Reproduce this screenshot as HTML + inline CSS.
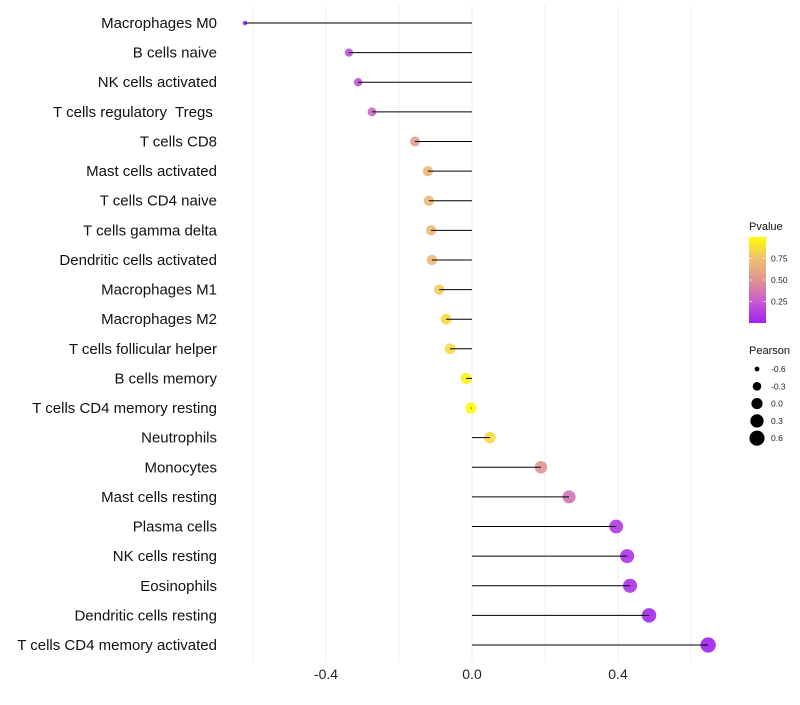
<!DOCTYPE html>
<html><head><meta charset="utf-8"><style>
body{margin:0;background:#fff;font-family:"Liberation Sans",sans-serif}
svg text{font-family:"Liberation Sans",sans-serif;white-space:pre}
</style></head><body>
<svg id="chart" width="800" height="700" xmlns="http://www.w3.org/2000/svg">
<defs><linearGradient id="pg" x1="0" y1="1" x2="0" y2="0">
<stop offset="0" stop-color="#A020F0"/><stop offset="0.25" stop-color="#C55CD0"/><stop offset="0.5" stop-color="#DF9590"/><stop offset="0.75" stop-color="#F0C070"/><stop offset="1" stop-color="#FFFF00"/></linearGradient></defs>
<g id="grid"></g><g id="marks"></g><g id="labels"></g><g id="legend"></g>
</svg>
<script>
const categories=["Macrophages M0","B cells naive","NK cells activated","T cells regulatory  Tregs ","T cells CD8","Mast cells activated","T cells CD4 naive","T cells gamma delta","Dendritic cells activated","Macrophages M1","Macrophages M2","T cells follicular helper","B cells memory","T cells CD4 memory resting","Neutrophils","Monocytes","Mast cells resting","Plasma cells","NK cells resting","Eosinophils","Dendritic cells resting","T cells CD4 memory activated"];
const pearson=[-0.622,-0.337,-0.312,-0.274,-0.156,-0.121,-0.118,-0.112,-0.110,-0.090,-0.071,-0.060,-0.016,-0.003,0.049,0.189,0.266,0.395,0.425,0.433,0.485,0.647];
const pvalues=[0.0,0.2,0.22,0.3,0.55,0.7,0.7,0.72,0.72,0.8,0.85,0.85,0.95,0.99,0.85,0.5,0.35,0.1,0.08,0.07,0.03,0.0];
const xTicks=[-0.4,0.0,0.4];
const xTickLabels=["-0.4","0.0","0.4"];
const xGrid=[-0.6,-0.4,-0.2,0,0.2,0.4,0.6];
const sizeBreaks=[-0.6,-0.3,0.0,0.3,0.6];
const colorBreaks=[0.25,0.5,0.75];

const NS="http://www.w3.org/2000/svg";
function mk(t,a,p){const e=document.createElementNS(NS,t);for(const k in a)e.setAttribute(k,a[k]);p.appendChild(e);return e;}
const X=v=>472+v*365;
const Y=i=>23+i*(622/21);
const R=v=>Math.sqrt(5+Math.max(0,(v+0.62))/1.27*54);
const stops=[[0,[160,32,240]],[0.25,[197,92,208]],[0.5,[223,149,144]],[0.75,[240,192,112]],[1,[255,255,0]]];
function col(p){for(let i=0;i<stops.length-1;i++){const[a,ca]=stops[i],[b,cb]=stops[i+1];if(p<=b){const t=(p-a)/(b-a);return "rgb("+ca.map((c,j)=>Math.round(c+(cb[j]-c)*t)).join(",")+")";}}return "rgb(255,255,0)";}
const grid=document.getElementById('grid'),marks=document.getElementById('marks'),labels=document.getElementById('labels'),leg=document.getElementById('legend');
xGrid.forEach(v=>{const l=mk('line',{x1:X(v),x2:X(v),y1:5,y2:662,stroke:'#efefef','stroke-width':1},grid);

});
xTicks.forEach((v,i)=>{const t=mk('text',{x:X(v),y:679,'text-anchor':'middle','font-size':14,fill:'#222'},labels);t.textContent=xTickLabels[i];

});
categories.forEach((c,i)=>{
const t=mk('text',{x:217,y:Y(i)+5,'text-anchor':'end','font-size':15,fill:'#111'},labels);t.textContent=c;


const p=mk('circle',{cx:X(pearson[i]),cy:Y(i),r:R(pearson[i]),fill:col(pvalues[i]),'fill-opacity':0.9},marks);


const s=mk('line',{x1:X(0),x2:X(pearson[i]),y1:Y(i),y2:Y(i),stroke:'#000','stroke-width':1},marks);


});
let t=mk('text',{x:749,y:230,'font-size':11,fill:'#111'},leg);t.textContent='Pvalue';


const bar=mk('rect',{x:749,y:237,width:17,height:86,fill:'url(#pg)'},leg);


colorBreaks.forEach(v=>{const y=323-v*86;
mk('line',{x1:749,x2:752,y1:y,y2:y,stroke:'#fff','stroke-width':0.6},leg);mk('line',{x1:763,x2:766,y1:y,y2:y,stroke:'#fff','stroke-width':0.6},leg);
const l=mk('text',{x:771,y:y+3,'font-size':8.5,fill:'#222'},leg);l.textContent=v.toFixed(2);

});
t=mk('text',{x:749,y:354,'font-size':11,fill:'#111'},leg);t.textContent='Pearson';


sizeBreaks.forEach((v,i)=>{const y=369+i*17.3;
const c=mk('circle',{cx:757,cy:y,r:R(v),fill:'#000'},leg);


const l=mk('text',{x:771,y:y+3,'font-size':8.5,fill:'#222'},leg);l.textContent=v.toFixed(1);

});
</script>
</body></html>
